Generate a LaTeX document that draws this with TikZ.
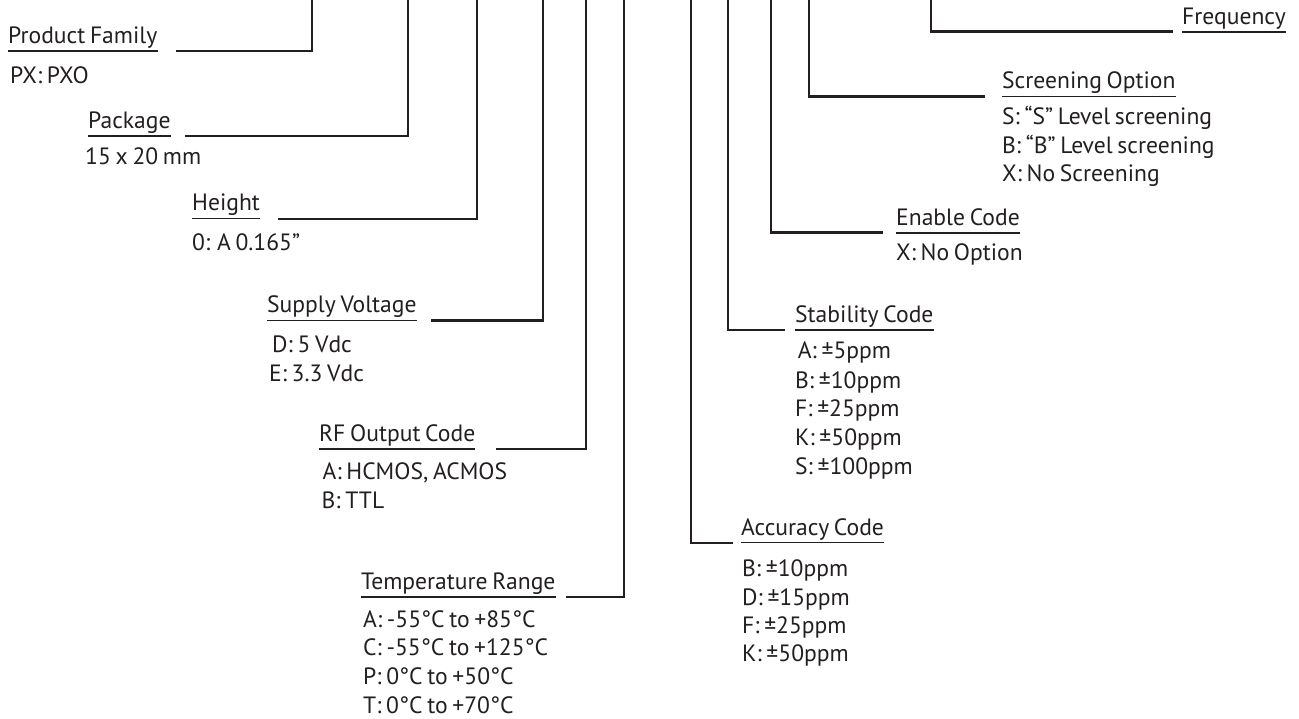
\documentclass[tikz,border=0pt]{standalone}
\usepackage{fontspec}
\setmainfont[WordSpace=0.75]{PT Sans}
\definecolor{ink}{RGB}{35,31,32}
\begin{document}
\begin{tikzpicture}[x=1pt,y=-1pt,
  lbl/.style={anchor=base west, inner sep=0pt, font=\fontsize{23.6}{28}\selectfont, text=ink},
  ulin/.style={draw=ink, line width=1.1pt},
  lead/.style={draw=ink, line width=2.8pt, line join=miter},
]
\useasboundingbox (0,0) rectangle (1299,719);
\newcommand{\headline}[4]{%
  \node[lbl] (#1) at (#2,#3-7.5) {#4};
  \draw[ulin] ([yshift=-7.5pt]#1.base west) -- ([yshift=-7.5pt]#1.base east);}
\newcommand{\leader}[4]{%
  \coordinate (#1s) at (#2,#3);
  \coordinate (#1t) at (#4,-3);
  \draw[lead] (#1s) -| (#1t);}
% headings
\headline{pf}{8}{51}{Product Family}
\headline{pk}{88}{136}{Package}
\headline{ht}{192}{218.5}{Height}
\headline{sv}{267}{320.5}{Supply Voltage}
\headline{rf}{319}{449}{RF Output Code}
\headline{tr}{361}{597}{Temperature Range}
\headline{ac}{741}{542.5}{Accuracy Code}
\headline{st}{795}{330}{Stability Code}
\headline{en}{896}{233}{Enable Code}
\headline{sc}{1002}{96.5}{Screening Option}
\headline{fr}{1182}{32}{Frequency}
% leaders
\leader{pf}{176}{51}{312}
\leader{pk}{185}{136}{408}
\leader{ht}{278}{219}{477}
\leader{sv}{431}{320.5}{543}
\leader{rf}{496}{449}{586}
\leader{tr}{566}{597}{624}
\leader{ac}{733}{543}{691}
\leader{st}{785}{330}{728}
\leader{en}{883}{232.5}{771}
\leader{sc}{985}{96.7}{809}
\leader{fr}{1173}{31.5}{931}
% values
\node[lbl] (pf1) at (10,84) {PX: PXO};
\node[lbl] (pk1) at (85,165) {15 x 20 mm};
\node[lbl] (ht1) at (192,250.7) {0: A 0.165”};
\node[lbl] (sv1) at (272,353) {D: 5 Vdc};
\node[lbl] (sv2) at (269,381.7) {E: 3.3 Vdc};
\node[lbl] (rf1) at (322.5,479) {A: HCMOS, ACMOS};
\node[lbl] (rf2) at (321.5,508) {B: TTL};
\node[lbl] (tr1) at (363,627) {A: -55°C to +85°C};
\node[lbl] (tr2) at (363,655.7) {C: -55°C to +125°C};
\node[lbl] (tr3) at (363,684) {P: 0°C to +50°C};
\node[lbl] (tr4) at (363,713) {T: 0°C to +70°C};
\node[lbl] (st1) at (797.7,359) {A: ±5ppm};
\node[lbl] (st2) at (795,388.3) {B: ±10ppm};
\node[lbl] (st3) at (795,416.7) {F: ±25ppm};
\node[lbl] (st4) at (795,445.7) {K: ±50ppm};
\node[lbl] (st5) at (795,474.3) {S: ±100ppm};
\node[lbl] (ac1) at (742,576) {B: ±10ppm};
\node[lbl] (ac2) at (742,605) {D: ±15ppm};
\node[lbl] (ac3) at (742,633.3) {F: ±25ppm};
\node[lbl] (ac4) at (742,661.7) {K: ±50ppm};
\node[lbl] (en1) at (896,261) {X: No Option};
\node[lbl] (sc1) at (1002,125) {S: “S” Level screening};
\node[lbl] (sc2) at (1002,153.3) {B: “B” Level screening};
\node[lbl] (sc3) at (1002,181.7) {X: No Screening};
\end{tikzpicture}
\end{document}
